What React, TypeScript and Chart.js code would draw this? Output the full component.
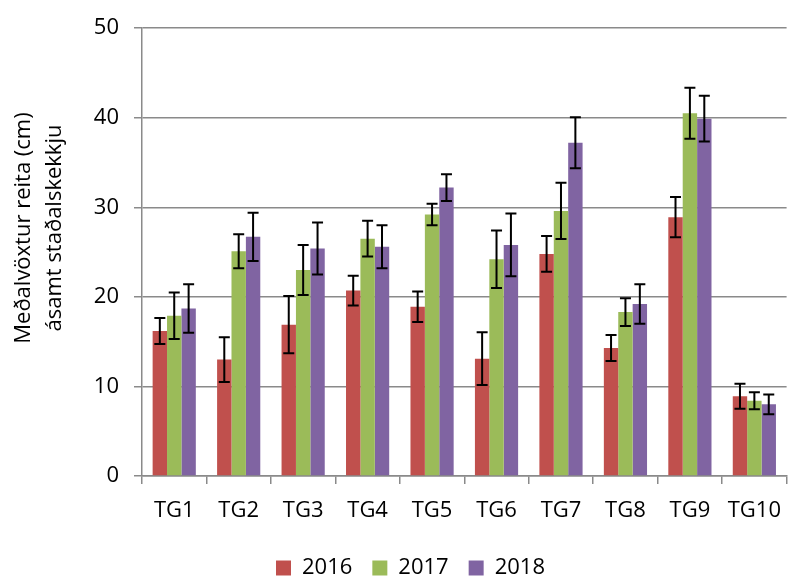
import { useEffect, useRef } from "react";
import { Chart, registerables } from "chart.js";

Chart.register(...registerables);

const categories = ["TG1", "TG2", "TG3", "TG4", "TG5", "TG6", "TG7", "TG8", "TG9", "TG10"];
const years = ["2016", "2017", "2018"];
const values2016 = [16.2, 13.0, 16.9, 20.7, 18.9, 13.1, 24.8, 14.3, 28.9, 8.9];
const values2017 = [17.9, 25.1, 23.0, 26.5, 29.2, 24.2, 29.6, 18.3, 40.5, 8.4];
const values2018 = [18.7, 26.7, 25.4, 25.6, 32.2, 25.8, 37.2, 19.2, 39.9, 8.0];
const err2016 = [1.45, 2.5, 3.2, 1.65, 1.7, 2.95, 2.0, 1.45, 2.25, 1.4];
const err2017 = [2.6, 1.9, 2.8, 2.0, 1.2, 3.2, 3.15, 1.55, 2.85, 0.95];
const err2018 = [2.7, 2.7, 2.9, 2.4, 1.5, 3.5, 2.85, 2.2, 2.55, 1.1];
const yMin = 0;
const yMax = 50;
const yStep = 10;
const yTitleLines = ["Meðalvöxtur reita (cm)", "ásamt staðalskekkju"];

const colors = ["#C0504D", "#9BBB59", "#8064A2"];
const gridColor = "#8a8a8a";
const FONT = "'Open Sans', 'DejaVu Sans', sans-serif";
const FS = 22;

const errorBarPlugin = {
  id: "errorBars",
  afterDatasetsDraw(chart: any) {
    const ctx = chart.ctx;
    const yScale = chart.scales.y;
    ctx.save();
    ctx.strokeStyle = "#000";
    ctx.lineWidth = 2;
    chart.data.datasets.forEach((ds: any, di: number) => {
      const meta = chart.getDatasetMeta(di);
      const errs: number[] = ds.errors || [];
      meta.data.forEach((bar: any, i: number) => {
        const v = ds.data[i];
        const e = errs[i];
        const x = bar.x;
        const yt = yScale.getPixelForValue(v + e);
        const yb = yScale.getPixelForValue(v - e);
        const cap = 5.5;
        ctx.beginPath();
        ctx.moveTo(x, yt);
        ctx.lineTo(x, yb);
        ctx.moveTo(x - cap, yt);
        ctx.lineTo(x + cap, yt);
        ctx.moveTo(x - cap, yb);
        ctx.lineTo(x + cap, yb);
        ctx.stroke();
      });
    });
    ctx.restore();
  },
};

const yTitlePlugin = {
  id: "yTitle",
  afterDraw(chart: any) {
    const ctx = chart.ctx;
    ctx.save();
    ctx.fillStyle = "#000";
    ctx.font = `${FS}px ${FONT}`;
    ctx.textAlign = "center";
    ctx.textBaseline = "middle";
    const xs = [24, 55];
    const yc = 228;
    yTitleLines.forEach((line, i) => {
      ctx.save();
      ctx.translate(xs[i], yc);
      ctx.rotate(-Math.PI / 2);
      ctx.fillText(line, 0, 0);
      ctx.restore();
    });
    ctx.restore();
  },
};

export default function App() {
  const ref = useRef<HTMLCanvasElement | null>(null);

  useEffect(() => {
    document.body.style.margin = "0";
    if (!ref.current) return;
    const series = [values2016, values2017, values2018];
    const errs = [err2016, err2017, err2018];
    const chart = new Chart(ref.current, {
      type: "bar",
      data: {
        labels: categories,
        datasets: years.map((y, i) => ({
          label: y,
          data: series[i],
          errors: errs[i],
          backgroundColor: colors[i],
          borderWidth: 0,
          categoryPercentage: 0.67,
          barPercentage: 1.0,
        })) as any,
      },
      options: {
        responsive: false,
        animation: false,
        layout: { padding: { left: 26, right: 0, top: 20, bottom: -13 } },
        plugins: {
          tooltip: { enabled: false },
          legend: {
            position: "bottom",
            labels: {
              boxWidth: 15,
              boxHeight: 15,
              padding: 20,
              color: "#000",
              font: { family: FONT, size: FS },
            },
          },
        },
        scales: {
          x: {
            afterFit: (s: any) => {
              s.height = 61;
            },
            grid: {
              display: true,
              drawOnChartArea: false,
              drawTicks: true,
              tickLength: 8,
              color: gridColor,
              lineWidth: 1.5,
            },
            border: { color: gridColor, width: 1.5 },
            ticks: {
              color: "#000",
              padding: 14,
              font: { family: FONT, size: FS },
            },
          },
          y: {
            min: yMin,
            max: yMax,
            afterFit: (s: any) => {
              s.width = 116;
            },
            ticks: {
              stepSize: yStep,
              color: "#000",
              padding: 15,
              font: { family: FONT, size: FS },
            },
            grid: {
              color: gridColor,
              lineWidth: 1.5,
              tickLength: 8,
              drawTicks: true,
            },
            border: { color: gridColor, width: 1.5 },
          },
        },
      },
      plugins: [errorBarPlugin, yTitlePlugin],
    });
    return () => chart.destroy();
  }, []);

  return (
    <div style={{ width: 795, height: 576 }}>
      <canvas ref={ref} width={795} height={576} style={{ display: "block" }} />
    </div>
  );
}
